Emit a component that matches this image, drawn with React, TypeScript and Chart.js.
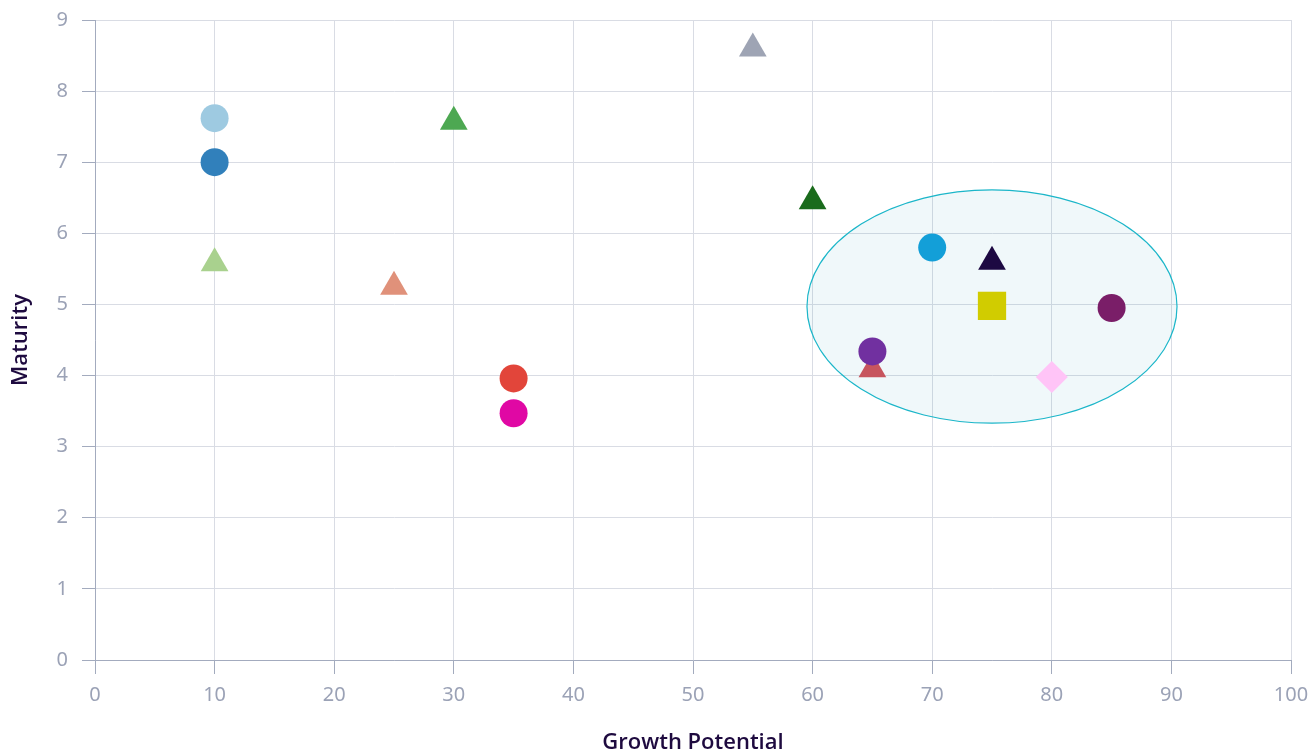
import React, { useEffect, useRef } from "react";
import { Chart, registerables } from "chart.js";

Chart.register(...registerables);

// ---- Data ----
const pointNames = [
  "A", "B", "C", "D", "E", "F", "G", "H", "I", "J", "K", "L", "M", "N", "O", "P",
];
const growthValues = [10, 10, 10, 25, 30, 55, 60, 35, 35, 70, 75, 75, 85, 65, 65, 80];
const maturityValues = [7.62, 7.0, 5.58, 5.25, 7.57, 8.6, 6.45, 3.96, 3.47, 5.8, 5.6, 4.98, 4.95, 4.34, 4.09, 3.98];
const pointShapes = [
  "circle", "circle", "triangle", "triangle", "triangle", "triangle", "triangle", "circle",
  "circle", "circle", "triangle", "rect", "circle", "circle", "triangle", "rectRot",
];
const pointColors = [
  "#9ecae1", "#3180bb", "#a9d18e", "#e0917a", "#4da852", "#9ea4b4", "#1a6b1c", "#e2453a",
  "#e008a4", "#139fd8", "#1d0942", "#d1cc00", "#7a1e68", "#7130a0", "#c7555e", "#ffc4f7",
];

const xTicks = [0, 10, 20, 30, 40, 50, 60, 70, 80, 90, 100];
const yTicks = [0, 1, 2, 3, 4, 5, 6, 7, 8, 9];

// highlighted region (data units)
const ellipseCenterX = 75;
const ellipseCenterY = 4.97;
const ellipseRadiusX = 15.47;
const ellipseRadiusY = 1.64;

const shapeRadius: Record<string, number> = {
  circle: 14,
  triangle: 16,
  rect: 20,
  rectRot: 16,
};

const ellipsePlugin = {
  id: "ellipseRegion",
  beforeDatasetsDraw(chart: any) {
    const { ctx, scales } = chart;
    const x = scales.x;
    const y = scales.y;
    const cx = x.getPixelForValue(ellipseCenterX);
    const cy = y.getPixelForValue(ellipseCenterY);
    const rx = Math.abs(x.getPixelForValue(ellipseCenterX + ellipseRadiusX) - cx);
    const ry = Math.abs(y.getPixelForValue(ellipseCenterY + ellipseRadiusY) - cy);
    ctx.save();
    ctx.beginPath();
    ctx.ellipse(cx, cy, rx, ry, 0, 0, Math.PI * 2);
    ctx.fillStyle = "rgba(40, 160, 190, 0.07)";
    ctx.fill();
    ctx.lineWidth = 1.2;
    ctx.strokeStyle = "#1bb6c9";
    ctx.stroke();
    ctx.restore();
  },
};

const TICK_FONT = "'Noto Sans', sans-serif";
const TITLE_FONT = "'Open Sans', sans-serif";

export default function App() {
  const canvasRef = useRef<HTMLCanvasElement | null>(null);

  useEffect(() => {
    if (!canvasRef.current) return;
    const datasets = pointNames.map((name, i) => ({
      label: name,
      data: [{ x: growthValues[i], y: maturityValues[i] }],
      pointStyle: pointShapes[i] as any,
      pointRadius: shapeRadius[pointShapes[i]],
      pointHoverRadius: shapeRadius[pointShapes[i]],
      backgroundColor: pointColors[i],
      borderColor: pointColors[i],
      borderWidth: 0,
    }));

    const chart = new Chart(canvasRef.current, {
      type: "scatter",
      data: { datasets },
      plugins: [ellipsePlugin],
      options: {
        animation: false,
        responsive: true,
        maintainAspectRatio: false,
        layout: { padding: { top: 18, right: 23, left: 0, bottom: 0 } },
        plugins: {
          legend: { display: false },
          tooltip: { enabled: false },
        },
        scales: {
          x: {
            type: "linear",
            min: 0,
            max: 100,
            afterBuildTicks: (scale: any) => {
              scale.ticks = xTicks.map((v) => ({ value: v }));
            },
            afterFit: (scale: any) => {
              scale.height = 93;
              scale.paddingLeft = 0;
              scale.paddingRight = 0;
            },
            grid: { color: "#d9dce4", tickColor: "#a3abbe", tickLength: 14, lineWidth: 1 },
            border: { color: "#a3abbe", width: 1 },
            ticks: {
              color: "#9ba2b6",
              padding: 9,
              font: { family: TICK_FONT, size: 20 },
            },
            title: {
              display: true,
              text: "Growth Potential",
              color: "#1e0a3f",
              padding: { top: 0, bottom: -3 },
              font: { family: TITLE_FONT, size: 22, weight: "600" as any },
            },
          },
          y: {
            type: "linear",
            min: 0,
            max: 9,
            afterBuildTicks: (scale: any) => {
              scale.ticks = yTicks.map((v) => ({ value: v }));
            },
            afterFit: (scale: any) => {
              scale.width = 95;
              scale.paddingTop = 0;
              scale.paddingBottom = 0;
            },
            grid: { color: "#d9dce4", tickColor: "#a3abbe", tickLength: 13, lineWidth: 1 },
            border: { color: "#a3abbe", width: 1 },
            ticks: {
              color: "#9ba2b6",
              padding: 14,
              font: { family: TICK_FONT, size: 20 },
            },
            title: {
              display: true,
              text: "Maturity",
              color: "#1e0a3f",
              padding: { top: 8, bottom: 0 },
              font: { family: TITLE_FONT, size: 22, weight: "600" as any },
            },
          },
        },
      },
    });
    return () => chart.destroy();
  }, []);

  return (
    <div style={{ position: "fixed", left: 0, top: 0, width: 1314, height: 753, background: "#ffffff" }}>
      <canvas ref={canvasRef} />
    </div>
  );
}
